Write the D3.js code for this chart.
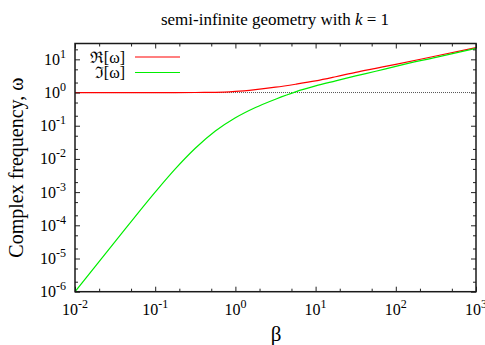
<!DOCTYPE html>
<html>
<head>
<meta charset="utf-8">
<script src="https://cdn.jsdelivr.net/npm/d3@7"></script>
<style>
  html, body { margin: 0; padding: 0; background: #fff; }
  svg { display: block; }
</style>
</head>
<body>
<svg id="chart" width="485" height="345" font-family="'Liberation Serif', 'DejaVu Serif', serif"></svg>
<script>
// Coupling parameter beta and the two parts of the complex frequency omega
const beta   = [0.01, 0.0316, 0.1, 0.178, 0.316, 0.562, 1, 1.78, 3.16, 5.62, 10, 17.8, 31.6, 56.2, 100, 316, 1000];
const omegaRe = [1.0, 1.0, 1.0, 1.0, 1.002, 1.01, 1.08, 1.23, 1.45, 1.78, 2.24, 2.99, 4.07, 5.37, 7.08, 12.6, 22.4];
const omegaIm = [1e-6, 3.2e-5, 1.0e-3, 5.0e-3, 0.0209, 0.069, 0.174, 0.355, 0.63, 1.05, 1.58, 2.24, 3.16, 4.37, 6.17, 11.5, 21.4];

// Axis ticks (decades) and labels
const xMajor = [1e-2, 1e-1, 1e0, 1e1, 1e2, 1e3];
const xExp   = ["-2", "-1", "0", "1", "2", "3"];
const yMajor = [1e-6, 1e-5, 1e-4, 1e-3, 1e-2, 1e-1, 1e0, 1e1];
const yExp   = ["-6", "-5", "-4", "-3", "-2", "-1", "0", "1"];
const minorMult = [2, 5];

const seriesNames = ["\u211C[\u03C9]", "\u2111[\u03C9]"];
const seriesColors = ["#ff0000", "#00ee00"];
const titleText = "semi-infinite geometry with ";
const xLabel = "\u03B2";
const yLabel = "Complex frequency, \u03C9";

const svg = d3.select("#chart");
const L = 75, R = 476, T = 43.5, B = 291.7;

const x = d3.scaleLog().domain([1e-2, 1e3]).range([L, R]);
const y = d3.scaleLog().domain([1e-6, 30]).range([B, T]);

function minors(majors, lo, hi) {
  const out = [];
  majors.forEach(m => minorMult.forEach(k => { const v = m * k; if (v > lo && v < hi) out.push(v); }));
  return out;
}
const xMinor = minors(xMajor, 1e-2, 1e3);
const yMinor = minors(yMajor, 1e-6, 30);

// clip region for the curves
svg.append("defs").append("clipPath").attr("id", "plotclip")
  .append("rect").attr("x", L).attr("y", T).attr("width", R - L).attr("height", B - T);

// reference line at omega = 1
svg.append("line")
  .attr("x1", L).attr("x2", R).attr("y1", y(1)).attr("y2", y(1))
  .attr("stroke", "#555").attr("stroke-width", 1).attr("stroke-dasharray", "1,1");

// curves
const line = d3.line().x(d => x(d[0])).y(d => y(d[1])).curve(d3.curveMonotoneX);
const series = [omegaRe, omegaIm];
series.forEach((vals, i) => {
  svg.append("path")
    .datum(beta.map((b, j) => [b, vals[j]]))
    .attr("clip-path", "url(#plotclip)")
    .attr("fill", "none")
    .attr("stroke", seriesColors[i])
    .attr("stroke-width", 1.2)
    .attr("d", line);
});

// inward ticks on all four sides
function tickAxis(axisFn, scale, values, size, transform) {
  const g = svg.append("g").attr("transform", transform)
    .call(axisFn(scale).tickValues(values).tickSizeInner(-size).tickSizeOuter(0).tickFormat(""));
  g.select(".domain").remove();
  g.selectAll(".tick line").attr("stroke", "#222").attr("stroke-width", 1);
  return g;
}
tickAxis(d3.axisBottom, x, xMajor, 5, `translate(0,${B})`);
tickAxis(d3.axisBottom, x, xMinor, 3, `translate(0,${B})`);
tickAxis(d3.axisTop, x, xMajor, 5, `translate(0,${T})`);
tickAxis(d3.axisTop, x, xMinor, 3, `translate(0,${T})`);
tickAxis(d3.axisLeft, y, yMajor, 5, `translate(${L},0)`);
tickAxis(d3.axisLeft, y, yMinor, 3, `translate(${L},0)`);
tickAxis(d3.axisRight, y, yMajor, 5, `translate(${R},0)`);
tickAxis(d3.axisRight, y, yMinor, 3, `translate(${R},0)`);

// frame
svg.append("rect").attr("x", L).attr("y", T).attr("width", R - L).attr("height", B - T)
  .attr("fill", "none").attr("stroke", "#1a1a1a").attr("stroke-width", 1.5);

// tick labels as 10 with superscript exponent
function powLabel(sel, exp) {
  sel.append("tspan").attr("font-size", 16).text("10");
  sel.append("tspan").attr("font-size", 12).attr("dy", -7).text(exp);
}
xMajor.forEach((v, i) => {
  const t = svg.append("text").attr("x", x(v)).attr("y", 315).attr("text-anchor", "middle");
  powLabel(t, xExp[i]);
});
yMajor.forEach((v, i) => {
  const t = svg.append("text").attr("x", 66).attr("y", y(v) + 5.5).attr("text-anchor", "end");
  powLabel(t, yExp[i]);
});

// title
const title = svg.append("text").attr("x", 275).attr("y", 25).attr("text-anchor", "middle").attr("font-size", 17);
title.append("tspan").text(titleText);
title.append("tspan").attr("font-style", "italic").text("k");
title.append("tspan").text(" = 1");

// axis labels
svg.append("text").attr("x", 276).attr("y", 341).attr("text-anchor", "middle").attr("font-size", 21).text(xLabel);
svg.append("text").attr("transform", `translate(23,${(T + B) / 2}) rotate(-90)`)
  .attr("text-anchor", "middle").attr("font-size", 20).text(yLabel);

// legend
seriesNames.forEach((name, i) => {
  const ly = 57 + i * 15.5;
  svg.append("text").attr("x", 125).attr("y", ly + 5.5).attr("text-anchor", "end").attr("font-size", 16).text(name);
  svg.append("line").attr("x1", 135).attr("x2", 180).attr("y1", ly).attr("y2", ly)
    .attr("stroke", seriesColors[i]).attr("stroke-width", 1.2);
});
</script>
</body>
</html>
